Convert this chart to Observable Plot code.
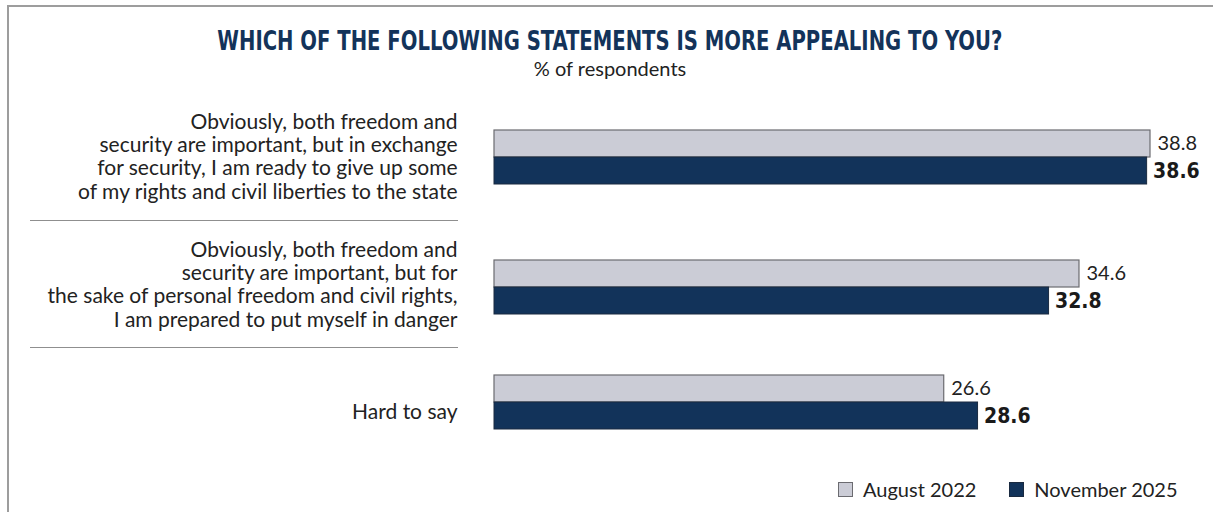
<!DOCTYPE html>
<html>
<head>
<meta charset="utf-8">
<script src="https://cdn.jsdelivr.net/npm/d3@7"></script>
<script src="https://cdn.jsdelivr.net/npm/@observablehq/plot@0.6"></script>
<style>
  html, body { margin: 0; padding: 0; background: #fff; }
  #page { position: relative; width: 1213px; height: 512px; overflow: hidden; font-family: Lato, "Open Sans", sans-serif; color: #222; }
  #frame { position: absolute; left: 7px; top: 5px; width: 1300px; height: 600px; border-left: 2px solid #9d9d9d; border-top: 2px solid #9d9d9d; }
  #title { position: absolute; left: 7px; width: 1206px; top: 28px; text-align: center; font-family: "Liberation Sans Narrow", "DejaVu Sans Condensed", sans-serif; font-weight: 700; font-size: 26px; line-height: 26px; color: #13335a; white-space: nowrap; }
  #title span { display: inline-block; transform-origin: center; }
  #subtitle { position: absolute; left: 7px; width: 1206px; top: 57px; text-align: center; font-size: 20px; line-height: 22px; color: #222; }
  .sep { position: absolute; left: 30px; width: 428px; height: 0; border-top: 1.5px solid #8f8f8f; }
  .panel { position: absolute; left: 0; }
  #legend { position: absolute; top: 477px; left: 838px; display: flex; align-items: center; font-size: 20px; color: #222; white-space: nowrap; }
  #legend .sw { width: 13px; height: 13px; border: 1px solid #555; margin-right: 10px; }
  #legend .item { display: flex; align-items: center; margin-right: 33px; }
</style>
</head>
<body>
<div id="page">
  <div id="frame"></div>
  <div id="title"><span>WHICH OF THE FOLLOWING STATEMENTS IS MORE APPEALING TO YOU?</span></div>
  <div id="subtitle">% of respondents</div>
  <div id="panels"></div>
  <div class="sep" style="top:220px"></div>
  <div class="sep" style="top:347px"></div>
  <div id="legend"></div>
</div>
<script>
// ---- data ----
const categories = [
  "Obviously, both freedom and\nsecurity are important, but in exchange\nfor security, I am ready to give up some\nof my rights and civil liberties to the state",
  "Obviously, both freedom and\nsecurity are important, but for\nthe sake of personal freedom and civil rights,\nI am prepared to put myself in danger",
  "Hard to say"
];
const seriesNames = ["August 2022", "November 2025"];
const august2022 = [38.8, 34.6, 26.6];
const november2025 = [38.6, 32.8, 28.6];

// ---- styling / layout ----
const colors = ["#cbccd6", "#12335a"];
const strokes = ["#6b6b70", "#1a2a40"];
const panelLayout = [
  {top: 100, height: 120, marginTop: 30, marginBottom: 36, labelDy: -1},
  {top: 220, height: 127, marginTop: 40, marginBottom: 33, labelDy: -3},
  {top: 347, height: 103, marginTop: 28, marginBottom: 21, labelDy: 9}
];
const xMax = d3.max([...august2022, ...november2025]);

const panels = document.getElementById("panels");
categories.forEach((cat, i) => {
  const rows = [
    {series: seriesNames[0], value: august2022[i]},
    {series: seriesNames[1], value: november2025[i]}
  ];
  const L = panelLayout[i];
  const chart = Plot.plot({
    width: 1213,
    height: L.height,
    marginLeft: 494,
    marginRight: 63,
    marginTop: L.marginTop,
    marginBottom: L.marginBottom,
    x: {domain: [0, xMax], axis: null},
    y: {domain: seriesNames, axis: null, padding: 0},
    color: {domain: seriesNames, range: colors},
    style: {fontFamily: "Lato, 'Open Sans', sans-serif", fontSize: "20px", color: "#222", background: "transparent", overflow: "visible"},
    marks: [
      Plot.barX(rows.filter(d => d.series === seriesNames[0]), {x: "value", y: "series", fill: "series", stroke: strokes[0], strokeWidth: 1.2}),
      Plot.barX(rows.filter(d => d.series === seriesNames[1]), {x: "value", y: "series", fill: "series", stroke: strokes[1], strokeWidth: 1}),
      Plot.text(rows.filter(d => d.series === seriesNames[0]), {x: "value", y: "series", text: d => d.value.toFixed(1), textAnchor: "start", dx: 7, fill: "#222", fontWeight: 400}),
      Plot.text(rows.filter(d => d.series === seriesNames[1]), {x: "value", y: "series", text: d => d.value.toFixed(1), textAnchor: "start", dx: 6, fill: "#1a1a1a", fontWeight: 800, fontFamily: "'Liberation Sans Narrow', 'DejaVu Sans Condensed', sans-serif", fontSize: 21}),
      Plot.text([cat], {text: d => d, frameAnchor: "left", textAnchor: "end", dx: -37, dy: L.labelDy, lineHeight: 1.1, fill: "#222", fontSize: 21})
    ]
  });
  chart.classList.add("panel");
  chart.style.top = L.top + "px";
  chart.style.position = "absolute";
  panels.appendChild(chart);
});

// ---- legend ----
const legend = document.getElementById("legend");
seriesNames.forEach((s, i) => {
  const item = document.createElement("div");
  item.className = "item";
  const sw = document.createElement("div");
  sw.className = "sw";
  sw.style.background = colors[i];
  sw.style.borderColor = strokes[i];
  const t = document.createElement("span");
  t.textContent = s;
  item.appendChild(sw); item.appendChild(t);
  legend.appendChild(item);
});

// ---- fit condensed title width ----
const tspan = document.querySelector("#title span");
const tw = tspan.getBoundingClientRect().width;
tspan.style.transform = `scaleX(${785 / tw})`;
</script>
</body>
</html>
